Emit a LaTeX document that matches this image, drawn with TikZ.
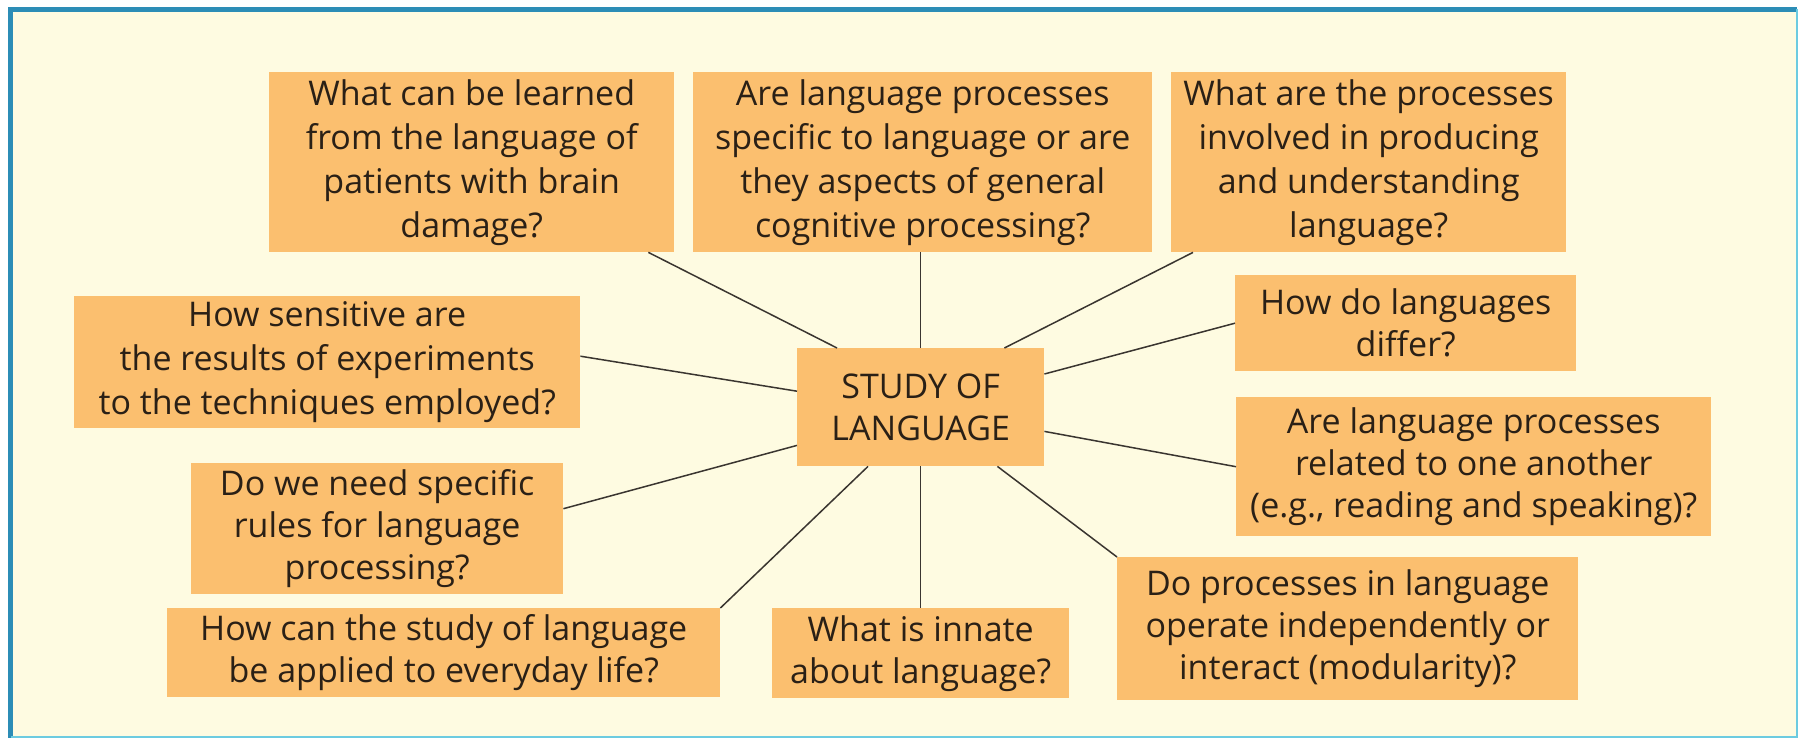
\documentclass[tikz,border=0pt]{standalone}
\usepackage{fontspec}
\setmainfont{Open Sans}
\usetikzlibrary{calc}
\definecolor{cream}{HTML}{FEFBE1}
\definecolor{boxfill}{HTML}{FBBF6F}
\definecolor{frameblue}{HTML}{2C8DB6}
\definecolor{framecyan}{HTML}{6CCBE0}
\definecolor{txt}{HTML}{2A2016}
\definecolor{linec}{HTML}{3A3530}
\begin{document}
\begin{tikzpicture}[x=1pt,y=-1pt,
  qbox/.style={fill=boxfill, draw=none, inner sep=0pt, anchor=north west, align=center,
    text=txt, font=\fontsize{34}{42}\selectfont},
  tallbox/.style={qbox, font=\fontsize{34}{44}\selectfont},
  link/.style={draw=linec, line width=1.5pt}]
\fill[white] (0,0) rectangle (1799,738);
\fill[cream] (8,7) rectangle (1797,738);
\useasboundingbox (0,0) rectangle (1799,738);
\draw[frameblue, line width=5pt] (10.5,738) -- (10.5,9.5) -- (1797,9.5);
\draw[framecyan, line width=2pt] (1797,9.5) -- (1797,737) -- (10.5,737);

\node[tallbox, minimum width=405pt, minimum height=180pt] (b1) at (269,72)
  {What can be learned\\from the language of\\patients with brain\\damage?};
\node[tallbox, minimum width=459pt, minimum height=180pt] (b2) at (693,72)
  {Are language processes\\specific to language or are\\they aspects of general\\cognitive processing?};
\node[tallbox, minimum width=395pt, minimum height=180pt] (b3) at (1171,72)
  {What are the processes\\involved in producing\\and understanding\\language?};
\node[tallbox, minimum width=506pt, minimum height=132pt] (b4) at (74,296)
  {How sensitive are\\the results of experiments\\to the techniques employed?};
\node[qbox, minimum width=372pt, minimum height=131pt] (b5) at (191,463)
  {Do we need specific\\rules for language\\processing?};
\node[qbox, minimum width=553pt, minimum height=89pt] (b6) at (167,608)
  {How can the study of language\\be applied to everyday life?};
\node[qbox, minimum width=297pt, minimum height=90pt] (b7) at (772,608)
  {What is innate\\about language?};
\node[qbox, minimum width=461pt, minimum height=143pt] (b8) at (1117,557)
  {Do processes in language\\operate independently or\\interact (modularity)?};
\node[qbox, minimum width=475pt, minimum height=139pt] (b9) at (1236,397)
  {Are language processes\\related to one another\\(e.g., reading and speaking)?};
\node[qbox, minimum width=341pt, minimum height=96pt] (b10) at (1235,275)
  {How do languages\\differ?};
\node[qbox, minimum width=247pt, minimum height=118pt] (c) at (797,348)
  {STUDY OF\\LANGUAGE};

\draw[link] ($(c.north west)+(40,0)$) -- ($(b1.south east)+(-26,0)$);
\draw[link] (c.north) -- (c.north |- b2.south);
\draw[link] ($(c.north east)+(-40,0)$) -- ($(b3.south west)+(22,0)$);
\draw[link] ($(c.north east)+(0,26)$) -- (b10.west);
\draw[link] ($(c.south east)+(0,-35)$) -- (b9.west);
\draw[link] ($(c.south east)+(-47,0)$) -- (b8.north west);
\draw[link] (c.south) -- (c.south |- b7.north);
\draw[link] ($(c.south west)+(71,0)$) -- (b6.north east);
\draw[link] ($(c.south west)+(0,-21)$) -- ($(b5.east)+(0,-20)$);
\draw[link] ($(c.west)+(0,-16)$) -- ($(b4.east)+(0,-6)$);
\end{tikzpicture}
\end{document}
